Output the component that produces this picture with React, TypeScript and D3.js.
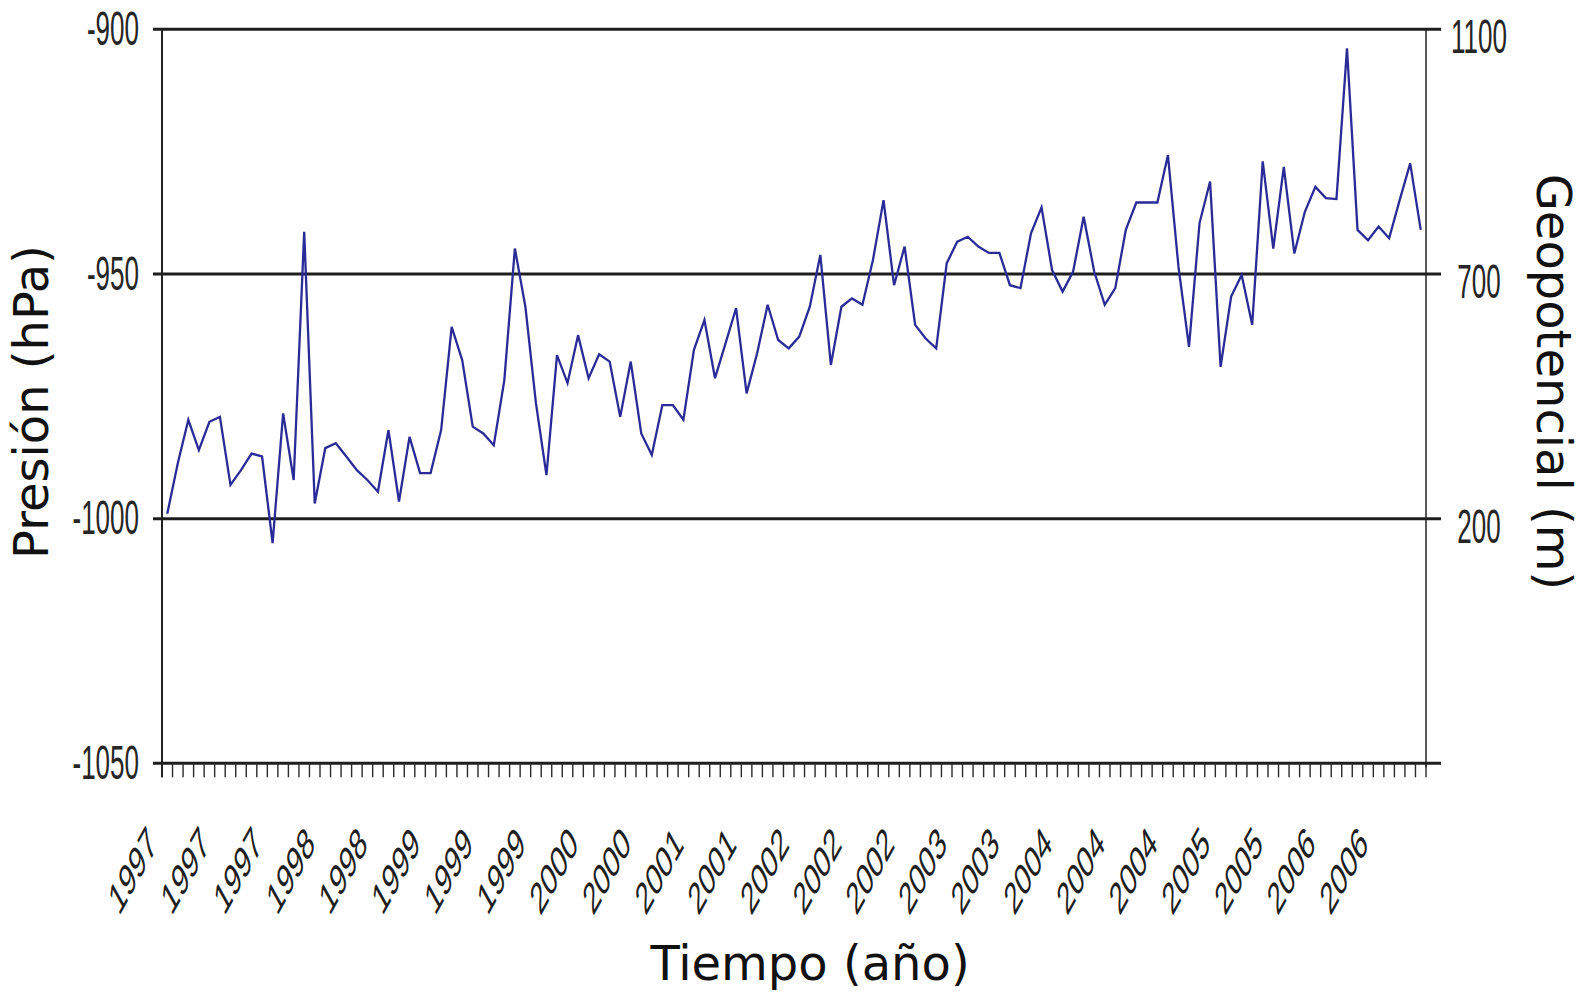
import React, { useRef, useEffect } from "react";
import * as d3 from "d3";

// monthly mean pressure, Jan 1997 .. Dec 2006 (hPa, plotted negative)
const pressure = [
  -999, -988.7, -979.8, -986, -980.2, -979.2, -993.1, -990.1, -986.7, -987.3,
  -1005, -978.5, -992.1, -941.4, -996.9, -985.6, -984.6, -987.3, -990.1, -992.1,
  -994.5, -981.9, -996.5, -983.3, -990.7, -990.7, -981.9, -960.8, -967.6, -981.2,
  -982.6, -985, -971.7, -944.8, -956.7, -976.4, -991.1, -966.6, -972.3, -962.5,
  -971.3, -966.4, -967.9, -979.2, -967.9, -982.6, -987, -976.8, -976.8, -979.8,
  -965.5, -959.4, -971.3, -964.2, -957, -974.4, -966.2, -956.3, -963.5, -965.2,
  -962.8, -956.7, -946.1, -968.6, -956.7, -955, -956.3, -947.1, -934.9, -952.3,
  -944.4, -960.4, -963.2, -965.2, -947.8, -943.4, -942.4, -944.4, -945.7, -945.7,
  -952.3, -952.9, -941.7, -936.4, -949.2, -953.6, -949.5, -938.3, -949.5, -956.3,
  -952.9, -941, -935.4, -935.4, -935.4, -925.7, -948.5, -964.9, -939.6, -931.1,
  -969, -954.6, -950.2, -960.4, -927, -944.8, -928.1, -945.8, -937.3, -932.2,
  -934.5, -934.7, -903.9, -941, -943.1, -940.3, -942.7, -934.9, -927.4, -941,
];

// one label every 5 months
const yearLabels = [
  "1997", "1997", "1997", "1998", "1998", "1999", "1999", "1999", "2000", "2000",
  "2001", "2001", "2002", "2002", "2002", "2003", "2003", "2004", "2004", "2004",
  "2005", "2005", "2006", "2006",
];
const labelEvery = 5;

const pressureTicks = [-900, -950, -1000, -1050];
// geopotential labels on the right sit on these pressure gridlines
const geoTicks = [200, 700, 1100];
const geoLevels = [-1000, -950, -900];

const W = 1587;
const H = 993;
const left = 162;
const right = 1426;
const top = 29.3;
const bottom = 763.3;

const tickFont = "'Liberation Sans', Arial, sans-serif";
const titleFont = "'DejaVu Sans', Verdana, sans-serif";

const App = () => {
  const ref = useRef<SVGSVGElement>(null);

  useEffect(() => {
    const svg = d3.select(ref.current);
    svg.selectAll("*").remove();

    const idx = pressure.map((_, i) => i);
    const x = d3.scaleBand<number>().domain(idx).range([left, right]);
    const bw = x.bandwidth();
    const cx = (i: number) => (x(i) as number) + bw / 2;

    const y = d3.scaleLinear().domain([-1050, -900]).range([bottom, top]);
    const yGeo = d3
      .scaleLinear()
      .domain(geoTicks)
      .range(geoLevels.map((v) => y(v)));

    // gridlines (also act as the tick marks on both sides)
    svg
      .append("g")
      .selectAll("line")
      .data(pressureTicks)
      .enter()
      .append("line")
      .attr("x1", left - 9)
      .attr("x2", right + 15)
      .attr("y1", (d) => y(d))
      .attr("y2", (d) => y(d))
      .attr("stroke", "#1e1e1e")
      .attr("stroke-width", 3);

    // x tick marks at category boundaries
    const bounds = idx.map((i) => x(i) as number).concat([right]);
    svg
      .append("g")
      .selectAll("line")
      .data(bounds)
      .enter()
      .append("line")
      .attr("x1", (d) => d)
      .attr("x2", (d) => d)
      .attr("y1", bottom)
      .attr("y2", bottom + 14)
      .attr("stroke", "#2a2a2a")
      .attr("stroke-width", 1.4);

    // vertical axes
    svg
      .append("line")
      .attr("x1", left)
      .attr("x2", left)
      .attr("y1", top)
      .attr("y2", bottom + 14)
      .attr("stroke", "#222")
      .attr("stroke-width", 2);
    svg
      .append("line")
      .attr("x1", right)
      .attr("x2", right)
      .attr("y1", top)
      .attr("y2", bottom + 4)
      .attr("stroke", "#222")
      .attr("stroke-width", 1.5);

    // left tick labels
    svg
      .append("g")
      .selectAll("text")
      .data(pressureTicks)
      .enter()
      .append("text")
      .attr("transform", (d) => `translate(139, ${y(d) + 15.7}) scale(1, 1.85)`)
      .attr("text-anchor", "end")
      .style("font-family", tickFont)
      .style("font-size", "26px")
      .attr("fill", "#262626")
      .text((d) => d);

    // right tick labels
    svg
      .append("g")
      .selectAll("text")
      .data(geoTicks)
      .enter()
      .append("text")
      .attr("transform", (d) => `translate(1479, ${yGeo(d) + 24}) scale(1, 1.85)`)
      .attr("text-anchor", "middle")
      .style("font-family", tickFont)
      .style("font-size", "26px")
      .attr("fill", "#262626")
      .text((d) => d);

    // x labels (rotated, then stretched vertically like the y labels)
    svg
      .append("g")
      .selectAll("text")
      .data(yearLabels)
      .enter()
      .append("text")
      .attr(
        "transform",
        (d, i) =>
          `translate(${cx(i * labelEvery) - 9}, 846) scale(1, 1.8) rotate(-45)`
      )
      .attr("text-anchor", "end")
      .style("font-family", tickFont)
      .style("font-size", "25px")
      .attr("fill", "#1e1e1e")
      .text((d) => d);

    // data line
    const lineGen = d3
      .line<number>()
      .x((d, i) => cx(i))
      .y((d) => y(d));
    svg
      .append("path")
      .datum(pressure)
      .attr("fill", "none")
      .attr("stroke", "#2b2b98")
      .attr("stroke-width", 2.3)
      .attr("d", lineGen);

    // axis titles
    svg
      .append("text")
      .attr("transform", "translate(48, 402) rotate(-90)")
      .attr("text-anchor", "middle")
      .style("font-family", titleFont)
      .style("font-size", "48px")
      .attr("fill", "#111")
      .text("Presión (hPa)");

    svg
      .append("text")
      .attr("transform", "translate(1537, 382) rotate(90)")
      .attr("text-anchor", "middle")
      .style("font-family", titleFont)
      .style("font-size", "48px")
      .attr("fill", "#111")
      .text("Geopotencial (m)");

    svg
      .append("text")
      .attr("x", 810)
      .attr("y", 980)
      .attr("text-anchor", "middle")
      .style("font-family", titleFont)
      .style("font-size", "48px")
      .attr("fill", "#111")
      .text("Tiempo (año)");
  }, []);

  return (
    <svg
      ref={ref}
      width={W}
      height={H}
      style={{ position: "absolute", left: 0, top: 0, background: "#fff" }}
    />
  );
};

export default App;
